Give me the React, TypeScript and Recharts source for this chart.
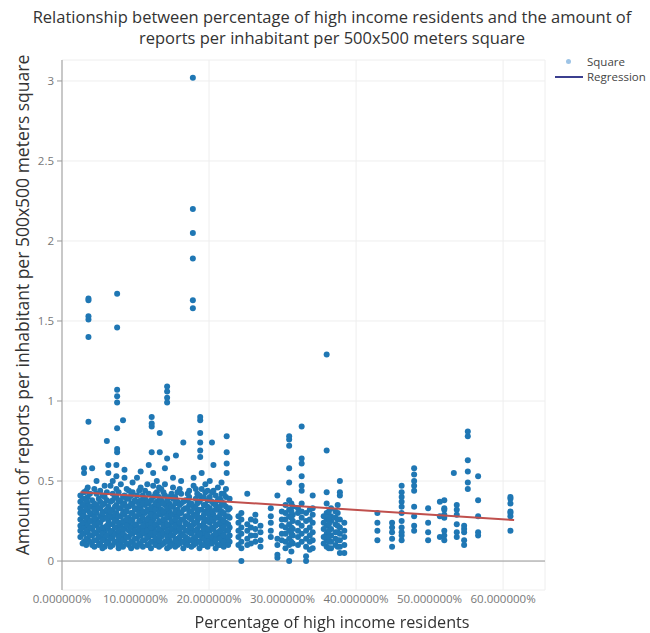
import { ScatterChart, Scatter, XAxis, YAxis, CartesianGrid, ReferenceLine } from 'recharts';

// x positions (percentage of high income residents) of each vertical strip of squares
const stripX: number[] = [
  2.5, 3.0, 3.5, 4.1, 4.7, 5.2, 5.8, 6.3, 6.9, 7.4, 8.0, 8.5, 9.1, 9.6, 10.2, 10.7, 11.3, 11.8, 12.4,
  12.9, 13.5, 14.0, 14.6, 15.1, 15.7, 16.2, 16.8, 17.3, 17.9, 18.4, 19.0, 19.5, 20.1, 20.6, 21.2, 21.7,
  22.3, 22.8, 24.4, 25.2, 26.3, 27.0, 28.4, 29.3, 30.4, 30.9, 31.4, 32.6, 33.2, 34.1, 36.0, 36.6, 37.2,
  37.8, 38.4, 42.9, 44.9, 46.2, 47.9, 49.8, 51.4, 52.0, 53.3, 53.7, 54.7, 55.2, 56.6, 61.0,
  3.6, 6.1, 7.5, 8.3, 12.2, 13.3, 14.3, 15.5, 16.5, 17.8, 18.8, 20.4, 22.4,
];

// reports per inhabitant for the squares in each strip
const stripY: number[][] = [
  [0.15, 0.19, 0.22, 0.26, 0.3, 0.33, 0.37, 0.41],
  [0.12, 0.17, 0.21, 0.24, 0.28, 0.31, 0.35, 0.39, 0.43, 0.55, 0.58],
  [0.14, 0.18, 0.23, 0.27, 0.32, 0.36, 0.4, 0.46],
  [0.1, 0.16, 0.2, 0.25, 0.29, 0.34, 0.38, 0.58],
  [0.13, 0.17, 0.22, 0.26, 0.3, 0.35, 0.42, 0.5],
  [0.11, 0.15, 0.19, 0.24, 0.28, 0.33, 0.37, 0.44],
  [0.09, 0.14, 0.18, 0.21, 0.27, 0.31, 0.36, 0.4, 0.47],
  [0.12, 0.16, 0.2, 0.25, 0.29, 0.34, 0.55, 0.6],
  [0.1, 0.15, 0.19, 0.23, 0.27, 0.32, 0.38, 0.42, 0.5],
  [0.12, 0.17, 0.21, 0.26, 0.3, 0.35, 0.4, 0.45, 0.53, 0.6],
  [0.11, 0.14, 0.18, 0.22, 0.28, 0.33, 0.37, 0.48],
  [0.13, 0.16, 0.2, 0.24, 0.29, 0.31, 0.36, 0.41, 0.52, 0.57],
  [0.1, 0.15, 0.19, 0.23, 0.27, 0.34, 0.39, 0.44],
  [0.12, 0.17, 0.21, 0.26, 0.3, 0.35, 0.43, 0.49],
  [0.09, 0.14, 0.18, 0.22, 0.28, 0.32, 0.37, 0.41, 0.52],
  [0.11, 0.16, 0.2, 0.25, 0.29, 0.33, 0.38, 0.46, 0.56],
  [0.13, 0.17, 0.21, 0.24, 0.3, 0.35, 0.39, 0.44],
  [0.1, 0.15, 0.19, 0.23, 0.27, 0.31, 0.36, 0.42, 0.6],
  [0.12, 0.16, 0.2, 0.26, 0.3, 0.34, 0.4, 0.47, 0.55],
  [0.11, 0.14, 0.18, 0.22, 0.28, 0.33, 0.37, 0.43, 0.5],
  [0.1, 0.15, 0.19, 0.24, 0.29, 0.32, 0.38, 0.45],
  [0.12, 0.17, 0.21, 0.25, 0.3, 0.35, 0.41, 0.48, 0.58],
  [0.09, 0.13, 0.18, 0.22, 0.27, 0.31, 0.36, 0.4],
  [0.11, 0.16, 0.2, 0.24, 0.29, 0.34, 0.39, 0.46, 0.52],
  [0.1, 0.14, 0.19, 0.23, 0.28, 0.32, 0.37, 0.43],
  [0.12, 0.17, 0.21, 0.26, 0.3, 0.36, 0.42, 0.5],
  [0.11, 0.15, 0.19, 0.24, 0.28, 0.33, 0.38],
  [0.13, 0.18, 0.22, 0.27, 0.31, 0.35, 0.4, 0.44],
  [0.1, 0.14, 0.19, 0.23, 0.29, 0.34, 0.47, 0.52],
  [0.12, 0.16, 0.2, 0.25, 0.3, 0.36, 0.42],
  [0.1, 0.15, 0.18, 0.22, 0.27, 0.32, 0.39, 0.45, 0.55],
  [0.13, 0.17, 0.21, 0.26, 0.31, 0.35, 0.43, 0.48],
  [0.11, 0.14, 0.19, 0.24, 0.28, 0.33, 0.4, 0.5],
  [0.12, 0.16, 0.2, 0.25, 0.29, 0.36, 0.44, 0.6],
  [0.1, 0.15, 0.18, 0.23, 0.27, 0.32, 0.38, 0.46],
  [0.13, 0.17, 0.22, 0.26, 0.31, 0.37, 0.42, 0.49],
  [0.11, 0.14, 0.19, 0.24, 0.28, 0.34, 0.4, 0.45],
  [0.12, 0.16, 0.21, 0.27, 0.33, 0.39],
  [0.0, 0.08, 0.12, 0.17, 0.21, 0.26, 0.3],
  [0.1, 0.14, 0.19, 0.23, 0.42],
  [0.12, 0.16, 0.2, 0.25, 0.29],
  [0.09, 0.13, 0.18, 0.22],
  [0.15, 0.19, 0.24, 0.28, 0.33],
  [0.02, 0.04, 0.1, 0.14, 0.41],
  [0.08, 0.12, 0.17, 0.21, 0.26, 0.3, 0.35],
  [0.0, 0.1, 0.14, 0.19, 0.23, 0.28, 0.32, 0.38, 0.49, 0.58, 0.72, 0.76, 0.78],
  [0.11, 0.16, 0.2, 0.25, 0.29, 0.34],
  [0.12, 0.17, 0.22, 0.27, 0.31, 0.36, 0.44, 0.47, 0.53, 0.61, 0.64, 0.84],
  [0.0, 0.03, 0.09, 0.14, 0.19, 0.25, 0.3],
  [0.08, 0.13, 0.18, 0.24, 0.29, 0.33, 0.41],
  [0.09, 0.13, 0.17, 0.22, 0.26, 0.3, 0.36, 0.43, 0.69, 1.29],
  [0.08, 0.12, 0.16, 0.2, 0.25, 0.28, 0.33],
  [0.1, 0.14, 0.18, 0.23, 0.27, 0.31],
  [0.05, 0.09, 0.13, 0.17, 0.21, 0.26, 0.41, 0.43, 0.5],
  [0.05, 0.1, 0.15, 0.19, 0.24],
  [0.13, 0.19, 0.24, 0.3],
  [0.09, 0.14, 0.18, 0.21, 0.24],
  [0.13, 0.16, 0.18, 0.21, 0.25, 0.3, 0.34, 0.37, 0.4, 0.43, 0.47],
  [0.19, 0.22, 0.28, 0.34, 0.44, 0.47, 0.5, 0.54, 0.58],
  [0.13, 0.18, 0.24, 0.33],
  [0.15, 0.28, 0.37],
  [0.13, 0.16, 0.19, 0.27, 0.29, 0.32, 0.33, 0.38],
  [0.55],
  [0.15, 0.18, 0.23, 0.29, 0.32, 0.35],
  [0.1, 0.13, 0.18, 0.2, 0.22],
  [0.45, 0.49, 0.56, 0.63, 0.78, 0.81],
  [0.16, 0.18, 0.28, 0.38, 0.53],
  [0.19, 0.28, 0.3, 0.31, 0.36, 0.39, 0.4],
  // outliers
  [0.87, 1.4, 1.51, 1.53, 1.63, 1.64],
  [0.75],
  [0.68, 0.7, 0.83, 0.99, 1.03, 1.07, 1.46, 1.67],
  [0.88],
  [0.68, 0.84, 0.86, 0.9],
  [0.68, 0.8],
  [0.64, 0.99, 1.02, 1.06, 1.09],
  [0.66],
  [0.74],
  [1.58, 1.63, 1.89, 2.05, 2.2, 3.02],
  [0.65, 0.69, 0.74, 0.8, 0.88, 0.9],
  [0.74],
  [0.55, 0.61, 0.68, 0.78],
];

// squares lying between the strips above (the dense low-income block and the 24-38% band)
const fillX: number[] = [
  2.8, 3.3, 3.8, 4.4, 5.0, 5.5, 6.1, 6.6, 7.2, 7.7, 8.3, 8.8, 9.4, 9.9, 10.5, 11.0, 11.6, 12.1, 12.7,
  13.2, 13.8, 14.3, 14.9, 15.4, 16.0, 16.5, 17.1, 17.6, 18.2, 18.7, 19.3, 19.8, 20.4, 20.9, 21.5, 22.0,
  22.6, 24.0, 25.7, 29.9, 31.2, 32.1, 33.7, 35.6, 36.3, 37.5,
];

const fillY: number[][] = [
  [0.11, 0.17, 0.24, 0.28, 0.35, 0.39],
  [0.1, 0.14, 0.19, 0.26, 0.33, 0.38, 0.44],
  [0.12, 0.16, 0.21, 0.25, 0.3, 0.34, 0.42],
  [0.09, 0.13, 0.18, 0.23, 0.27, 0.32, 0.36, 0.45],
  [0.1, 0.15, 0.2, 0.24, 0.33, 0.39],
  [0.08, 0.13, 0.17, 0.21, 0.26, 0.3, 0.35, 0.41],
  [0.11, 0.16, 0.22, 0.27, 0.32, 0.38, 0.43],
  [0.09, 0.14, 0.18, 0.23, 0.28, 0.31, 0.37, 0.47],
  [0.12, 0.17, 0.21, 0.25, 0.29, 0.34, 0.4],
  [0.08, 0.1, 0.15, 0.19, 0.24, 0.28, 0.33, 0.38, 0.43],
  [0.09, 0.13, 0.17, 0.2, 0.25, 0.3, 0.35, 0.4],
  [0.11, 0.15, 0.22, 0.26, 0.31, 0.34, 0.39, 0.45],
  [0.08, 0.12, 0.17, 0.21, 0.25, 0.3, 0.36, 0.41],
  [0.1, 0.14, 0.19, 0.23, 0.28, 0.33, 0.38],
  [0.11, 0.16, 0.2, 0.25, 0.3, 0.35, 0.44],
  [0.09, 0.13, 0.18, 0.22, 0.27, 0.31, 0.36, 0.41],
  [0.1, 0.15, 0.19, 0.26, 0.32, 0.37, 0.48],
  [0.08, 0.12, 0.17, 0.21, 0.24, 0.29, 0.33, 0.38],
  [0.1, 0.14, 0.18, 0.23, 0.28, 0.32, 0.36, 0.42],
  [0.09, 0.13, 0.16, 0.2, 0.25, 0.3, 0.35, 0.4, 0.46],
  [0.11, 0.17, 0.22, 0.26, 0.31, 0.36, 0.43],
  [0.08, 0.12, 0.15, 0.19, 0.23, 0.28, 0.33, 0.38],
  [0.1, 0.16, 0.2, 0.25, 0.29, 0.34, 0.42],
  [0.09, 0.13, 0.18, 0.22, 0.26, 0.31, 0.36, 0.4],
  [0.11, 0.15, 0.2, 0.24, 0.3, 0.35, 0.45],
  [0.08, 0.12, 0.16, 0.21, 0.26, 0.32, 0.37],
  [0.1, 0.14, 0.19, 0.23, 0.28, 0.33, 0.38, 0.42],
  [0.09, 0.13, 0.17, 0.21, 0.26, 0.31, 0.36],
  [0.11, 0.15, 0.19, 0.24, 0.28, 0.33, 0.39, 0.45],
  [0.08, 0.12, 0.17, 0.22, 0.27, 0.32, 0.37, 0.41],
  [0.1, 0.14, 0.2, 0.24, 0.29, 0.35, 0.4],
  [0.09, 0.12, 0.16, 0.2, 0.25, 0.3, 0.34, 0.38, 0.44],
  [0.11, 0.15, 0.21, 0.26, 0.31, 0.37, 0.43],
  [0.08, 0.13, 0.17, 0.22, 0.27, 0.32, 0.35, 0.41],
  [0.1, 0.14, 0.19, 0.24, 0.29, 0.34, 0.39],
  [0.09, 0.12, 0.16, 0.21, 0.25, 0.3, 0.36, 0.42],
  [0.1, 0.15, 0.19, 0.23, 0.28, 0.32],
  [0.1, 0.15, 0.19, 0.24, 0.28],
  [0.11, 0.16, 0.21, 0.26],
  [0.13, 0.17, 0.22, 0.26, 0.31],
  [0.06, 0.12, 0.17, 0.21, 0.27, 0.31, 0.36],
  [0.1, 0.15, 0.19, 0.24, 0.3, 0.33],
  [0.07, 0.12, 0.16, 0.21, 0.26, 0.32],
  [0.11, 0.15, 0.2, 0.24, 0.28],
  [0.08, 0.12, 0.15, 0.19, 0.23, 0.27, 0.31],
  [0.09, 0.13, 0.18, 0.22, 0.26, 0.3, 0.35],
];

const regressionX: number[] = [2.5, 61.5];
const regressionY: number[] = [0.43, 0.256];

const xTicks: number[] = [0, 10, 20, 30, 40, 50, 60];
const yTicks: number[] = [0, 0.5, 1, 1.5, 2, 2.5, 3];

const squares = [
  ...stripX.flatMap((x, i) => stripY[i].map((y) => ({ x, y }))),
  ...fillX.flatMap((x, i) => fillY[i].map((y) => ({ x, y }))),
];
const regression = regressionX.map((x, i) => ({ x, y: regressionY[i] }));

const font = '"Open Sans", sans-serif';

const Dot = (props: any) => <circle cx={props.cx} cy={props.cy} r={3} fill="#1f77b4" />;

export default function App() {
  return (
    <div style={{ position: 'fixed', left: 0, top: 0, width: 650, height: 633, fontFamily: font, background: '#fff' }}>
      <div
        style={{
          position: 'absolute', left: 0, top: 6, width: 664, textAlign: 'center',
          fontSize: 16.5, lineHeight: '21px', color: '#333',
        }}
      >
        Relationship between percentage of high income residents and the amount of
        <br />
        reports per inhabitant per 500x500 meters square
      </div>
      <ScatterChart width={650} height={633} margin={{ top: 60, right: 105, bottom: 13, left: 22 }}>
        <CartesianGrid stroke="#eeeeee" />
        <XAxis
          type="number"
          dataKey="x"
          domain={[0, 65.7]}
          ticks={xTicks}
          tickFormatter={(v: number) => `${v.toFixed(6)}%`}
          axisLine={false}
          tickLine={false}
          tickSize={0}
          tickMargin={5}
          height={30}
          tick={{ fill: '#777', fontSize: 11.5, fontFamily: font }}
        />
        <YAxis
          type="number"
          dataKey="y"
          domain={[-0.181, 3.131]}
          ticks={yTicks}
          width={40}
          axisLine={{ stroke: '#999' }}
          tickLine={{ stroke: '#999' }}
          tickSize={5}
          tickMargin={3}
          tick={{ fill: '#777', fontSize: 11.5, fontFamily: font }}
        />
        <ReferenceLine y={0} stroke="#999" />
        <Scatter name="Square" data={squares} shape={Dot} isAnimationActive={false} />
        <Scatter
          name="Regression"
          data={regression}
          line={{ stroke: '#c0504d', strokeWidth: 2 }}
          shape={() => <g />}
          isAnimationActive={false}
        />
      </ScatterChart>
      <div style={{ position: 'absolute', left: 22, top: 305, width: 0, height: 0 }}>
        <div
          style={{
            position: 'absolute', left: 0, top: 0, transform: 'translate(-50%, -50%) rotate(-90deg)',
            whiteSpace: 'nowrap', fontSize: 17.5, color: '#333',
          }}
        >
          Amount of reports per inhabitant per 500x500 meters square
        </div>
      </div>
      <div
        style={{
          position: 'absolute', left: 0, top: 611, width: 664, textAlign: 'center',
          fontSize: 16.2, lineHeight: '22px', color: '#333',
        }}
      >
        Percentage of high income residents
      </div>
      <div style={{ position: 'absolute', left: 553, top: 54, fontSize: 11.5, color: '#444', lineHeight: '15px' }}>
        <div style={{ display: 'flex', alignItems: 'center' }}>
          <span style={{ width: 30, display: 'flex', justifyContent: 'center' }}>
            <span style={{ width: 5, height: 5, borderRadius: 3, background: '#9ec4e6' }} />
          </span>
          <span style={{ marginLeft: 4 }}>Square</span>
        </div>
        <div style={{ display: 'flex', alignItems: 'center' }}>
          <span style={{ width: 28, height: 2, background: '#3b3f8f', marginLeft: 2 }} />
          <span style={{ marginLeft: 4 }}>Regression</span>
        </div>
      </div>
    </div>
  );
}
